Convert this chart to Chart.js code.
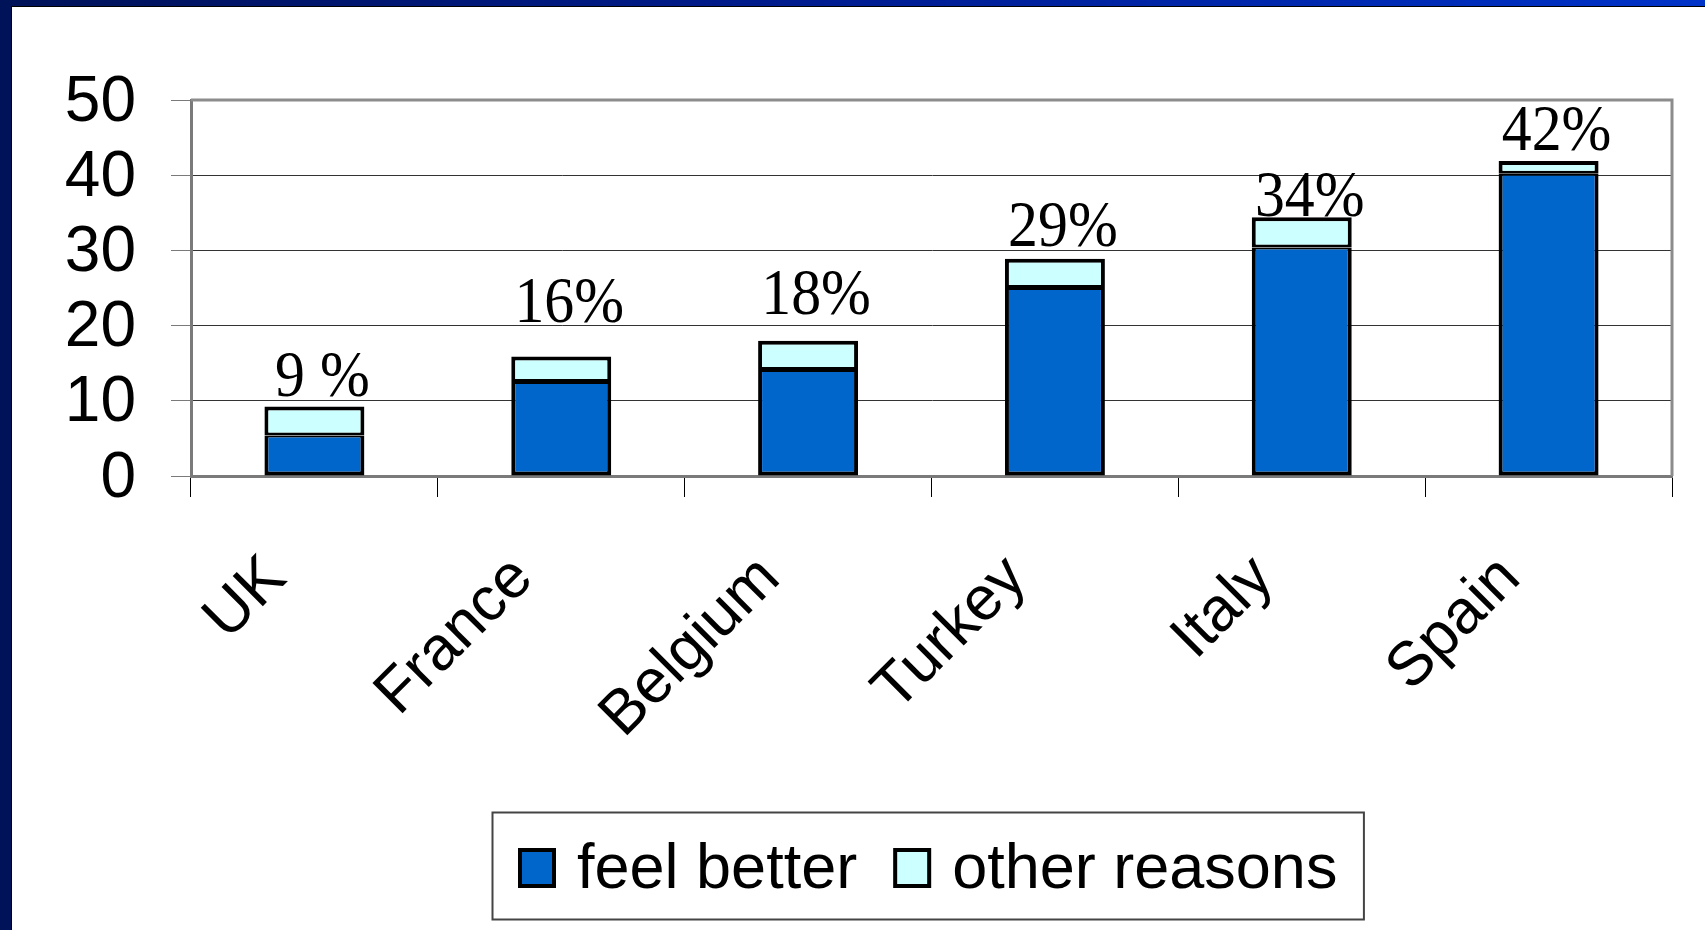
<!DOCTYPE html>
<html><head><meta charset="utf-8">
<script src="https://cdn.jsdelivr.net/npm/chart.js@4/dist/chart.umd.min.js"></script>
<style>html,body{margin:0;padding:0;background:#fff;overflow:hidden}</style>
</head><body>
<canvas id="c" width="1705" height="930"></canvas>
<script>
// ---- data ----
const categories = ['UK', 'France', 'Belgium', 'Turkey', 'Italy', 'Spain'];
const feelBetter = [5.4, 12.5, 14.1, 25.0, 30.4, 40.2];
const otherReasons = [3.85, 3.4, 3.9, 3.9, 4.0, 1.7];
const totalLabels = ['9 %', '16%', '18%', '29%', '34%', '42%'];
const seriesNames = ['feel better', 'other reasons'];
const yMin = 0, yMax = 50, yStep = 10;

// ---- style ----
const BLUE = '#0066cc', CYAN = '#ccffff';
const labelGap = [10, 34, 27, 13, 1, 11];
const SANS = '"Liberation Sans", Arial, sans-serif';
const SERIF = '"Liberation Serif", "Times New Roman", serif';

const pageFrame = {
  id: 'pageFrame',
  beforeDraw(chart) {
    const c = chart.ctx, W = chart.width, H = chart.height;
    c.save();
    c.fillStyle = '#fff'; c.fillRect(0, 0, W, H);
    const g = c.createLinearGradient(0, 0, W, 0);
    g.addColorStop(0, '#001258'); g.addColorStop(0.5, '#001d92'); g.addColorStop(1, '#0033c8');
    c.fillStyle = g; c.fillRect(0, 0, W, 6);
    c.fillStyle = '#001258'; c.fillRect(0, 0, 11, H);
    c.fillStyle = '#000'; c.fillRect(11, 6, 1, H - 6); c.fillRect(11, 6, W - 11, 1);
    c.restore();
  }
};

const plotFrame = {
  id: 'plotFrame',
  beforeDatasetsDraw(chart) {
    const a = chart.chartArea, c = chart.ctx;
    c.save();
    c.strokeStyle = '#8c8c8c'; c.lineWidth = 3;
    c.beginPath();
    c.moveTo(a.left, a.top); c.lineTo(a.right, a.top); c.lineTo(a.right, a.bottom);
    c.stroke();
    c.restore();
  }
};

const totals = {
  id: 'totals',
  afterDatasetsDraw(chart) {
    const c = chart.ctx;
    const meta = chart.getDatasetMeta(1);
    c.save();
    c.fillStyle = '#000';
    c.font = '65px ' + SERIF;
    c.textAlign = 'center'; c.textBaseline = 'alphabetic';
    meta.data.forEach((el, i) => {
      c.save();
      c.translate(el.x + 8, el.y - labelGap[i]);
      c.scale(0.92, 1);
      c.fillText(totalLabels[i], 0, 0);
      c.restore();
    });
    c.restore();
  }
};

const boxLegend = {
  id: 'boxLegend',
  afterDraw(chart) {
    const c = chart.ctx, a = chart.chartArea;
    c.save();
    c.font = '63px ' + SANS;
    const items = chart.data.datasets.map(d => ({ text: d.label, color: d.backgroundColor, w: c.measureText(d.label).width }));
    const sw = 38, sh = 40, gapT = 21, gapI = 36, pad = 26;
    let inner = 0;
    items.forEach((it, i) => { inner += sw + gapT + it.w + (i < items.length - 1 ? gapI : 0); });
    const bw = inner + pad * 2, bh = 107;
    const cx = (a.left + a.right) / 2 - 4;
    const bx = Math.round(cx - bw / 2), by = 812;
    c.strokeStyle = '#444'; c.lineWidth = 2;
    c.strokeRect(bx + 0.5, by + 0.5, bw, bh);
    let x = bx + pad;
    const base = 888;
    items.forEach(it => {
      c.fillStyle = it.color; c.fillRect(x, base - sh, sw, sh);
      c.strokeStyle = '#000'; c.lineWidth = 4;
      c.strokeRect(x + 2, base - sh + 2, sw - 4, sh - 4);
      c.fillStyle = '#000'; c.textAlign = 'left'; c.textBaseline = 'alphabetic';
      c.fillText(it.text, x + sw + gapT, base);
      x += sw + gapT + it.w + gapI;
    });
    c.restore();
  }
};

new Chart(document.getElementById('c'), {
  type: 'bar',
  data: {
    labels: categories,
    datasets: [
      { label: seriesNames[0], data: feelBetter, backgroundColor: BLUE, borderColor: '#000',
        borderWidth: { top: 2, left: 4, right: 4, bottom: 4 }, borderSkipped: false,
        barPercentage: 0.405, categoryPercentage: 1 },
      { label: seriesNames[1], data: otherReasons, backgroundColor: CYAN, borderColor: '#000',
        borderWidth: { top: 4, left: 4, right: 4, bottom: 3 }, borderSkipped: false,
        barPercentage: 0.405, categoryPercentage: 1 }
    ]
  },
  options: {
    responsive: false, animation: false, devicePixelRatio: 1,
    layout: { padding: { left: 0, top: 100, right: 33, bottom: 0 } },
    plugins: { legend: { display: false }, tooltip: { enabled: false } },
    scales: {
      x: {
        stacked: true,
        grid: { offset: true, drawOnChartArea: false, tickLength: 21, tickColor: '#000', lineWidth: 1 },
        border: { display: true, color: '#7a7a7a', width: 3 },
        ticks: { autoSkip: false, minRotation: 45, maxRotation: 45, padding: 45, labelOffset: -38, color: '#000',
                 font: { family: SANS, size: 62 } },
        afterFit(s) { s.height = 930 - 476; }
      },
      y: {
        stacked: true, min: yMin, max: yMax,
        grid: { color: ctx => (ctx.tick && ctx.tick.value === yMax) ? 'rgba(0,0,0,0)' : '#333',
                tickColor: '#7a7a7a', tickLength: 20, lineWidth: 1 },
        border: { display: true, color: '#7a7a7a', width: 3 },
        ticks: { stepSize: yStep, autoSkip: false, padding: 35, labelOffset: 3, color: '#000',
                 font: { family: SANS, size: 64 } },
        afterFit(s) { s.width = 191; }
      }
    }
  },
  plugins: [pageFrame, plotFrame, totals, boxLegend]
});
</script>
</body></html>
